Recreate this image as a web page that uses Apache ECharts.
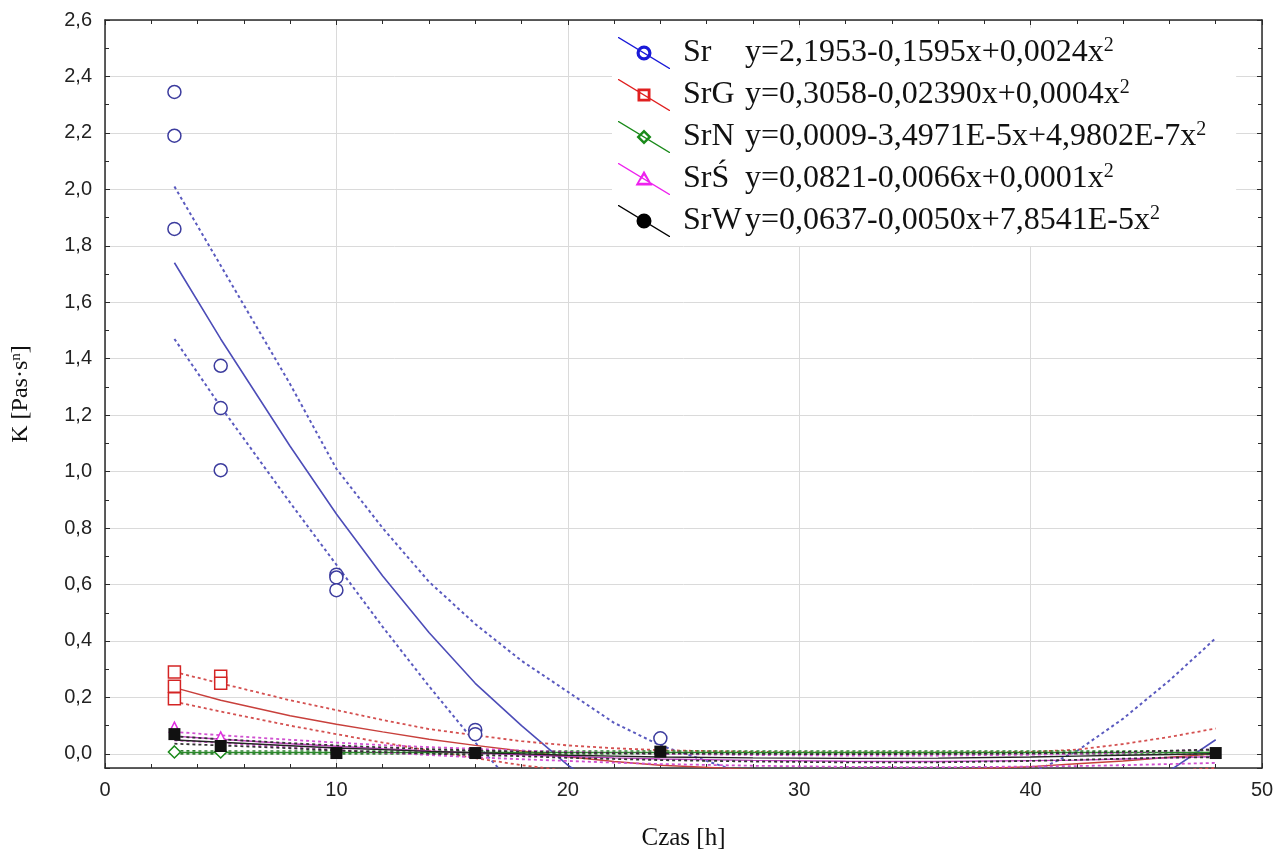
<!DOCTYPE html>
<html>
<head>
<meta charset="utf-8">
<script src="https://cdn.jsdelivr.net/npm/echarts@6/dist/echarts.min.js"></script>
<style>
  html, body { margin: 0; padding: 0; background: #fff; }
  #chart { width: 1278px; height: 856px; }
</style>
</head>
<body>
<div id="chart"></div>
<script>
// measured points (Czas [h] -> K)
const srX = [3, 3, 3, 5, 5, 5, 10, 10, 10, 16, 16, 24];
const srK = [2.345, 2.19, 1.86, 1.375, 1.225, 1.005, 0.635, 0.625, 0.58, 0.085, 0.07, 0.055];
const srgX = [3, 3, 3, 5, 5];
const srgK = [0.29, 0.24, 0.195, 0.275, 0.25];
const srnX = [3, 5];
const srnK = [0.007, 0.007];
const srsX = [3, 5];
const srsK = [0.095, 0.06];
const srwX = [3, 5, 10, 16, 24, 48];
const srwK = [0.07, 0.028, 0.003, 0.003, 0.008, 0.003];

// fitted curves and their dotted bands
const fitX = [3, 5, 8, 10, 12, 14, 16, 18, 20, 22, 24, 28, 32, 36, 40, 42, 44, 46, 48];
const srFit = [1.74, 1.47, 1.09, 0.85, 0.63, 0.43, 0.25, 0.10, -0.04, -0.15, -0.25, -0.39, -0.45, -0.43, -0.34, -0.26, -0.17, -0.06, 0.05];
const srUp = [2.01, 1.73, 1.31, 1.01, 0.80, 0.61, 0.46, 0.33, 0.22, 0.11, 0.03, -0.08, -0.15, -0.15, -0.07, 0.01, 0.125, 0.26, 0.41];
const srLo = [1.47, 1.23, 0.89, 0.67, 0.45, 0.24, 0.04, -0.14, -0.31, -0.45, -0.56, -0.72, -0.78, -0.76, -0.66, -0.58, -0.48, -0.38, -0.28];
const srgFit = [0.235, 0.19, 0.135, 0.105, 0.078, 0.052, 0.03, 0.01, -0.01, -0.027, -0.04, -0.055, -0.06, -0.058, -0.045, -0.035, -0.025, -0.012, 0.0];
const srgUp = [0.29, 0.25, 0.19, 0.155, 0.12, 0.088, 0.066, 0.045, 0.03, 0.02, 0.013, 0.007, 0.005, 0.005, 0.007, 0.015, 0.035, 0.06, 0.09];
const srgLo = [0.185, 0.15, 0.10, 0.07, 0.04, 0.012, -0.015, -0.04, -0.06, -0.075, -0.085, -0.10, -0.11, -0.11, -0.10, -0.09, -0.075, -0.06, -0.05];
const srnFit = [0.005, 0.005, 0.005, 0.005, 0.005, 0.005, 0.005, 0.005, 0.005, 0.005, 0.005, 0.005, 0.005, 0.005, 0.005, 0.005, 0.005, 0.005, 0.005];
const srnUp = [0.011, 0.01, 0.01, 0.01, 0.01, 0.01, 0.01, 0.01, 0.01, 0.01, 0.01, 0.01, 0.01, 0.01, 0.01, 0.01, 0.01, 0.011, 0.012];
const srnLo = [0.0, 0.0, 0.0, 0.0, 0.0, 0.0, 0.0, 0.0, 0.0, 0.0, 0.0, 0.0, 0.0, 0.0, 0.0, 0.0, 0.0, -0.001, -0.002];
const srsFit = [0.063, 0.052, 0.036, 0.027, 0.018, 0.010, 0.003, -0.003, -0.009, -0.014, -0.018, -0.023, -0.026, -0.027, -0.024, -0.022, -0.018, -0.014, -0.009];
const srsUp = [0.078, 0.066, 0.05, 0.04, 0.031, 0.024, 0.018, 0.012, 0.007, 0.003, 0.0, -0.004, -0.006, -0.006, -0.003, 0.0, 0.004, 0.01, 0.016];
const srsLo = [0.048, 0.039, 0.023, 0.014, 0.005, -0.004, -0.012, -0.019, -0.025, -0.031, -0.036, -0.042, -0.046, -0.047, -0.045, -0.043, -0.04, -0.036, -0.032];
const srwFit = [0.049, 0.041, 0.029, 0.021, 0.015, 0.009, 0.004, 0.0, -0.005, -0.008, -0.011, -0.014, -0.016, -0.015, -0.011, -0.008, -0.005, -0.002, 0.001];
const srwUp = [0.062, 0.052, 0.038, 0.03, 0.023, 0.017, 0.012, 0.008, 0.005, 0.003, 0.002, 0.0, -0.001, 0.0, 0.002, 0.004, 0.007, 0.011, 0.016];
const srwLo = [0.036, 0.03, 0.02, 0.012, 0.006, 0.001, -0.004, -0.008, -0.014, -0.018, -0.022, -0.027, -0.03, -0.03, -0.025, -0.021, -0.017, -0.013, -0.012];

const names = ['Sr', 'SrG', 'SrN', 'SrŚ', 'SrW'];
const equations = [
  'y=2,1953-0,1595x+0,0024x',
  'y=0,3058-0,02390x+0,0004x',
  'y=0,0009-3,4971E-5x+4,9802E-7x',
  'y=0,0821-0,0066x+0,0001x',
  'y=0,0637-0,0050x+7,8541E-5x'
];

const pairs = (xs, ys) => xs.map((x, i) => [x, ys[i]]);
const comma = (v, d) => v.toFixed(d).replace('.', ',');

// legend icons: diagonal line with the marker on it
const seg = 'M0,0 L0,0.9 L51.1,32 L52,32 L52,31.1 L0.9,0 Z ';
const icons = {
  Sr: 'path://' + seg + 'M18.5,16 A7.5,7.5 0 1,0 33.5,16 A7.5,7.5 0 1,0 18.5,16 Z M21.7,16 A4.3,4.3 0 1,1 30.3,16 A4.3,4.3 0 1,1 21.7,16 Z',
  SrG: 'path://' + seg + 'M19.5,9.5 L19.5,22.5 L32.5,22.5 L32.5,9.5 Z M22.3,12.3 L29.7,12.3 L29.7,19.7 L22.3,19.7 Z',
  SrN: 'path://' + seg + 'M26,8.5 L18.5,16 L26,23.5 L33.5,16 Z M26,12 L30,16 L26,20 L22,16 Z',
  'SrŚ': 'path://' + seg + 'M26,7.5 L17.5,22.5 L34.5,22.5 Z M26,12.5 L31,19.8 L21,19.8 Z',
  SrW: 'path://' + seg + 'M18.5,16 A7.5,7.5 0 1,0 33.5,16 A7.5,7.5 0 1,0 18.5,16 Z'
};
const legendColors = ['#1a1ad8', '#e02020', '#1a8a1a', '#ee22ee', '#000000'];

const chart = echarts.init(document.getElementById('chart'));

function fitLine(name, ys, color, width, dashed) {
  return {
    name: name,
    type: 'line',
    data: pairs(fitX, ys),
    showSymbol: false,
    symbol: 'none',
    clip: true,
    z: 2,
    lineStyle: { color: color, width: width, type: dashed ? [3, 3] : 'solid' },
    emphasis: { disabled: true }
  };
}

function points(name, xs, ys, symbol, size, color, filled) {
  return {
    name: name,
    type: 'scatter',
    data: pairs(xs, ys),
    symbol: symbol,
    symbolSize: size,
    z: 4,
    itemStyle: {
      color: filled ? color : '#ffffff',
      borderColor: color,
      borderWidth: filled ? 0 : 1.5,
      opacity: 1
    }
  };
}

const axisCommonX = {
  type: 'value',
  min: 0,
  max: 50,
  interval: 10,
  axisLine: { show: true, onZero: false, lineStyle: { color: '#2a2a2a', width: 1.5 } },
  axisTick: { show: true, inside: true, length: 5, lineStyle: { color: '#2a2a2a' } },
  minorTick: { show: true, splitNumber: 5, length: 4, lineStyle: { color: '#2a2a2a' } }
};
const axisCommonY = {
  type: 'value',
  min: -0.05,
  max: 2.6,
  minInterval: 0.2,
  maxInterval: 0.2,
  splitNumber: 13,
  axisLine: { show: true, onZero: false, lineStyle: { color: '#2a2a2a', width: 1.5 } },
  axisTick: { show: true, inside: true, length: 5, lineStyle: { color: '#2a2a2a' } },
  minorTick: { show: true, splitNumber: 2, length: 4, lineStyle: { color: '#2a2a2a' } }
};

const option = {
  animation: false,
  backgroundColor: '#ffffff',
  grid: { left: 105, right: 16, top: 20, bottom: 76, containLabel: false },
  legend: {
    orient: 'vertical',
    left: 612,
    top: 28,
    padding: [8, 30, 8, 6],
    itemGap: 8,
    itemWidth: 52,
    itemHeight: 32,
    backgroundColor: '#ffffff',
    selectedMode: false,
    data: names.map((n, i) => ({
      name: n,
      icon: icons[n],
      itemStyle: { color: legendColors[i], borderWidth: 0, borderColor: legendColors[i] }
    })),
    formatter: (name) => {
      const i = names.indexOf(name);
      return '{nm|' + name + '}{eq|' + equations[i] + '}{sup|2}';
    },
    textStyle: {
      fontFamily: 'Liberation Serif',
      fontSize: 32,
      color: '#111',
      lineHeight: 34,
      rich: {
        nm: { fontFamily: 'Liberation Serif', fontSize: 32, color: '#111', width: 62, lineHeight: 34, padding: [0, 0, 0, 8] },
        eq: { fontFamily: 'Liberation Serif', fontSize: 32, color: '#111', lineHeight: 34 },
        sup: { fontFamily: 'Liberation Serif', fontSize: 20, color: '#111', lineHeight: 34, verticalAlign: 'top' }
      }
    }
  },
  xAxis: [
    Object.assign({}, axisCommonX, {
      position: 'bottom',
      name: 'Czas [h]',
      nameLocation: 'middle',
      nameGap: 58,
      nameTextStyle: { fontFamily: 'Liberation Serif', fontSize: 25, color: '#111' },
      axisLabel: { margin: 12, fontFamily: 'Liberation Sans', fontSize: 20, color: '#222', formatter: (v) => String(v) },
      splitLine: { show: true, lineStyle: { color: '#dadada', width: 1 } }
    }),
    Object.assign({}, axisCommonX, {
      position: 'top',
      axisLabel: { show: false },
      splitLine: { show: false }
    })
  ],
  yAxis: [
    Object.assign({}, axisCommonY, {
      position: 'left',
      name: '{a|K [Pas·s}{n|n}{a|]}',
      nameLocation: 'middle',
      nameGap: 72,
      nameRotate: 90,
      nameTextStyle: {
        fontFamily: 'Liberation Serif',
        fontSize: 24,
        color: '#111',
        rich: {
          a: { fontFamily: 'Liberation Serif', fontSize: 24, color: '#111' },
          n: { fontFamily: 'Liberation Serif', fontSize: 15, color: '#111', verticalAlign: 'top' }
        }
      },
      axisLabel: {
        margin: 13,
        fontFamily: 'Liberation Sans',
        fontSize: 20,
        color: '#222',
        formatter: (v) => (v < -0.001 ? '' : comma(v, 1))
      },
      splitLine: { show: true, lineStyle: { color: '#dadada', width: 1 } }
    }),
    Object.assign({}, axisCommonY, {
      position: 'right',
      axisLabel: { show: false },
      splitLine: { show: false }
    })
  ],
  series: [
    fitLine('Sr fit', srFit, '#4d4db8', 1.6, false),
    fitLine('Sr up', srUp, '#5a5abf', 2, true),
    fitLine('Sr lo', srLo, '#5a5abf', 2, true),
    fitLine('SrG fit', srgFit, '#c8403c', 1.4, false),
    fitLine('SrG up', srgUp, '#d45050', 1.8, true),
    fitLine('SrG lo', srgLo, '#d45050', 1.8, true),
    fitLine('SrN fit', srnFit, '#2a8a2a', 1.5, false),
    fitLine('SrN up', srnUp, '#2f7f2f', 1.6, true),
    fitLine('SrN lo', srnLo, '#2f7f2f', 1.6, true),
    fitLine('SrŚ fit', srsFit, '#c040c0', 1.4, false),
    fitLine('SrŚ up', srsUp, '#d050d0', 1.8, true),
    fitLine('SrŚ lo', srsLo, '#d050d0', 1.8, true),
    fitLine('SrW fit', srwFit, '#222222', 1.4, false),
    fitLine('SrW up', srwUp, '#333333', 1.8, true),
    fitLine('SrW lo', srwLo, '#333333', 1.8, true),
    points('Sr', srX, srK, 'circle', 13, '#3c3c9e', false),
    points('SrG', srgX, srgK, 'rect', 12, '#d42424', false),
    points('SrN', srnX, srnK, 'diamond', 12, '#1a8a1a', false),
    points('SrŚ', srsX, srsK, 'triangle', 10, '#e030e0', false),
    points('SrW', srwX, srwK, 'rect', 12, '#111111', true)
  ]
};

chart.setOption(option);
</script>
</body>
</html>
